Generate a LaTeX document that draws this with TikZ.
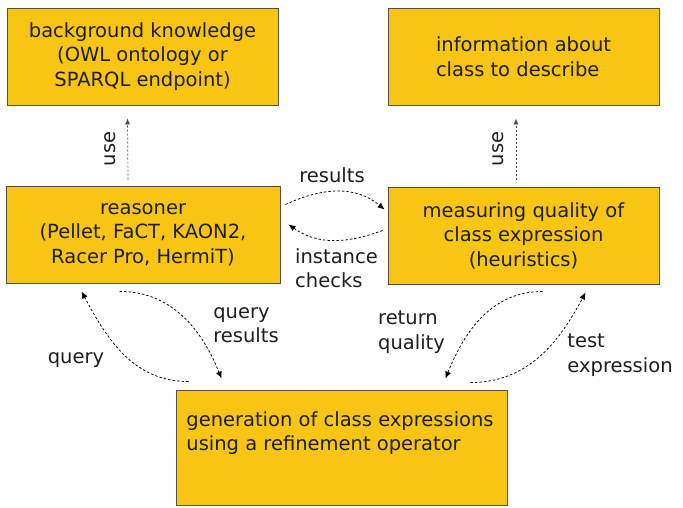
\documentclass[tikz,border=0pt]{standalone}
\usepackage{fontspec}
\setmainfont{DejaVu Sans}
\usetikzlibrary{arrows.meta,calc}
\definecolor{boxfill}{HTML}{F9C515}
\definecolor{boxline}{HTML}{5A5040}
\definecolor{txt}{HTML}{1E1E1E}
\tikzset{
  box/.style={draw=boxline, line width=0.9pt, fill=boxfill, inner sep=0pt, text=txt,
    font=\fontsize{19.5}{24.5}\selectfont},
  lbl/.style={text=txt, inner sep=0pt, font=\fontsize{19.5}{24.5}\selectfont},
  flow/.style={draw=black, line width=0.75pt, dash pattern=on 2.5pt off 2pt,
    -{Latex[length=7pt,width=6pt]}},
  usearrow/.style={draw=black!70, line width=0.7pt, dash pattern=on 2pt off 2pt,
    -{Latex[length=6pt,width=5pt]}}
}
\begin{document}
\begin{tikzpicture}[x=1pt,y=-1pt]
\useasboundingbox (0,0) rectangle (683,508);
% boxes
\node[box, minimum width=271pt, minimum height=97pt, align=center] (bg) at (142.5,56.5)
  {background knowledge\\(OWL ontology or\\SPARQL endpoint)};
\node[box, minimum width=271pt, minimum height=97pt, align=left] (info) at (523.5,56.5)
  {information about\\class to describe\hspace*{4pt}};
\node[box, minimum width=274pt, minimum height=97pt, align=center] (reas) at (143,234.5)
  {reasoner\\(Pellet, FaCT, KAON2,\\Racer Pro, HermiT)};
\node[box, minimum width=271pt, minimum height=97pt, align=center] (meas) at (523.5,235.5)
  {measuring quality of\\class expression\\(heuristics)};
\node[box, minimum width=331pt, minimum height=115pt, align=left] (gen) at (341.5,447.5)
  {generation of class expressions\hspace*{3pt}\\using a refinement operator\\[8pt]};
% use arrows
\draw[usearrow] ([xshift=-15pt,yshift=6pt]reas.north) -- ([xshift=-15pt,yshift=-13pt]bg.south)
  node[lbl, midway, rotate=90, yshift=18pt] (use1) {use};
\draw[usearrow] ([xshift=-7.5pt,yshift=7pt]meas.north) -- ([xshift=-7.5pt,yshift=-13pt]info.south)
  node[lbl, midway, rotate=90, yshift=18pt] (use2) {use};
% results / instance checks
\draw[flow] ($(reas.north east)+(5,19)$) to[out=25,in=140] ($(meas.north west)+(-3,23)$);
\draw[flow] ($(meas.west)+(-5,-5)$) to[out=200,in=-35] ($(reas.east)+(8,-10)$);
\node[lbl] (results) at (332,175) {results};
\node[lbl, align=left] (inst) at (336.5,268) {instance\\checks};
% query / query results
\draw[flow] ($(gen.north west)+(13,-8)$) to[out=180,in=-62] ($(reas.south west)+(76,8)$);
\draw[flow] ($(reas.south west)+(114,8)$) to[out=0,in=112] ($(gen.north west)+(46,-11)$);
\node[lbl] (query) at (76,360) {query};
\node[lbl, align=left] (qres) at (246,325) {query\\results};
% return quality / test expression
\draw[flow] ($(meas.south west)+(155,7)$) to[out=180,in=68] ($(gen.north east)+(-62,-11)$);
\draw[flow] ($(gen.north east)+(-37,-7)$) to[out=0,in=-118] ($(meas.south west)+(198,8)$);
\node[lbl, align=left] (retq) at (411.5,332) {return\\quality};
\node[lbl, align=left] (test) at (620,355) {test\\expression};
\end{tikzpicture}
\end{document}
